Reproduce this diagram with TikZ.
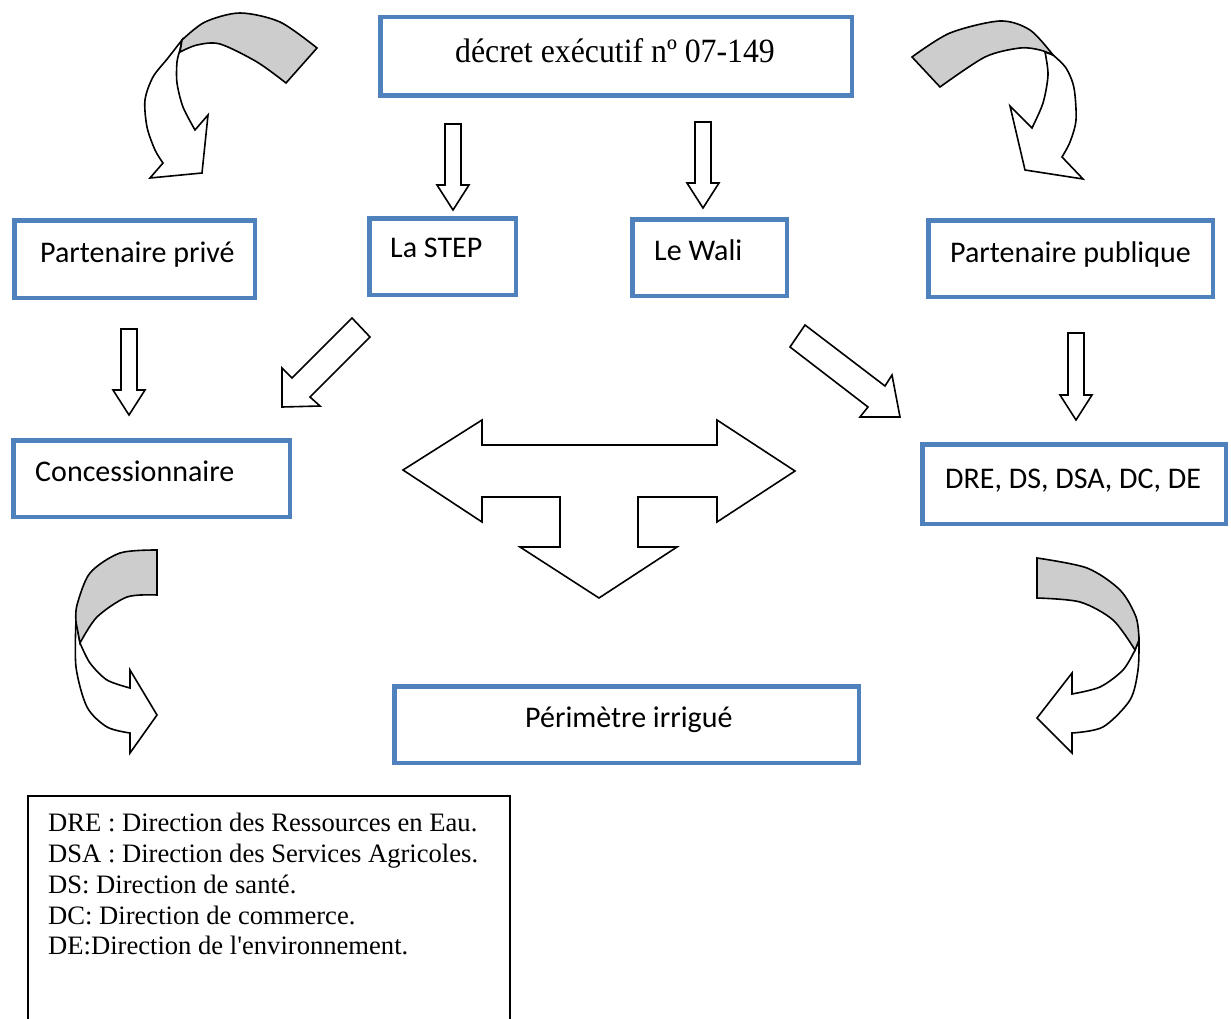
\documentclass[tikz,border=0pt]{standalone}
\usepackage{fontspec}
\setmainfont{Liberation Serif}[Ligatures=TeXOff]
\newfontfamily\calibri{Carlito}
\definecolor{boxblue}{HTML}{4F81BD}
\definecolor{bandgray}{HTML}{CDCDCD}
\begin{document}
\begin{tikzpicture}[x=1pt,y=-1pt,
  bluebox/.style={draw=boxblue, line width=4.5pt, inner sep=0pt, fill=white},
  boxtext/.style={font=\calibri\fontsize{30}{36}\selectfont, inner sep=0pt},
  legtext/.style={font=\fontsize{26.6}{30.8}\selectfont, inner sep=0pt, align=left},
  arr/.style={draw=black, line width=1.6pt, fill=white, line join=miter},
  band/.style={draw=black, line width=1.6pt, fill=bandgray, line join=miter}]
\clip (0,0) rectangle (1231,1019);
\fill[white] (0,0) rectangle (1231,1019);

% boxes
\node[bluebox, minimum width=471.5pt, minimum height=78.5pt] (decret) at (616,56.5) {};
\node[inner sep=0pt, anchor=base, font=\fontsize{34}{40}\selectfont] (decrettext) at (615,63) {\scalebox{0.935}[1]{décret exécutif nº 07-149}};
\node[bluebox, minimum width=240.5pt, minimum height=77.5pt] (prive) at (134.5,259) {};
\node[boxtext, anchor=base west] (privetext) at (40,262) {Partenaire privé};
\node[bluebox, minimum width=146.5pt, minimum height=76.5pt] (step) at (442.5,256.5) {};
\node[boxtext, anchor=base west] (steptext) at (390,257) {La STEP};
\node[bluebox, minimum width=154.5pt, minimum height=76.5pt] (wali) at (709.5,257.5) {};
\node[boxtext, anchor=base west] (walitext) at (654,260) {Le Wali};
\node[bluebox, minimum width=284.5pt, minimum height=76.5pt] (publique) at (1070.5,258.5) {};
\node[boxtext, anchor=base west] (publiquetext) at (950,262) {Partenaire publique};
\node[bluebox, minimum width=276.5pt, minimum height=76.5pt] (conc) at (151.5,478.5) {};
\node[boxtext, anchor=base west] (conctext) at (35,481) {Concessionnaire};
\node[bluebox, minimum width=303.5pt, minimum height=79.5pt] (dre) at (1074,484) {};
\node[boxtext, anchor=base west] (dretext) at (945,488) {DRE, DS, DSA, DC, DE};
\node[bluebox, minimum width=464.5pt, minimum height=76.5pt] (perim) at (626.5,724.5) {};
\node[boxtext, anchor=base west] (perimtext) at (525,727) {Périmètre irrigué};

% legend
\draw[line width=1.3pt] (28,796) rectangle (510,1040);
\node[legtext, anchor=north west] (legend) at (48,813) {DRE : Direction des Ressources en Eau.\\DSA : Direction des Services Agricoles.\\DS: Direction de santé.\\DC: Direction de commerce.\\DE:Direction de l'environnement.};

% straight block arrows
\draw[arr] (445,124) -- (461,124) -- (461,185) -- (469,185) -- (453,210) -- (437,185) -- (445,185) -- cycle;
\draw[arr] (695,122) -- (711,122) -- (711,183) -- (719,183) -- (703,208) -- (687,183) -- (695,183) -- cycle;
\draw[arr] (121,329) -- (137,329) -- (137,390) -- (145,390) -- (129,415) -- (113,390) -- (121,390) -- cycle;
\draw[arr] (1068,333) -- (1084,333) -- (1084,395) -- (1092,395) -- (1076,420) -- (1060,395) -- (1068,395) -- cycle;
% diagonal arrows
\draw[arr] (352,318) -- (370,337) -- (310,397) -- (320,406) -- (282,407) -- (282,368) -- (292,378) -- cycle;
\draw[arr] (805,325) -- (885,386) -- (892,375) -- (900,417) -- (860,417) -- (868,407) -- (790,347) -- cycle;
% T arrow
\draw[arr] (403,470) -- (482,420) -- (482,445) -- (717,445) -- (717,420) -- (795,471) -- (717,522) -- (717,497) -- (638,497) -- (638,547) -- (677,547) -- (599,598) -- (520,547) -- (560,547) -- (560,497) -- (482,497) -- (482,522) -- cycle;

% curved arrow top-left
\draw[arr] plot[smooth] coordinates {(182,40) (168,58) (153,77) (145,100) (147,127) (155,150) (163,163)} -- (150,178) -- (202,173) -- (208,115) -- (195,130) -- plot[smooth] coordinates {(195,130) (183,107) (177,83) (177,62) (180,50)} -- cycle;
\draw[band] plot[smooth] coordinates {(182,40) (205,22) (240,13) (280,22) (317,48)} -- (286,83) -- plot[smooth] coordinates {(286,83) (257,62) (220,44) (197,45) (180,52)} -- cycle;

% curved arrow top-right
\draw[arr] plot[smooth] coordinates {(1053,55) (1066,68) (1074,88) (1076,120) (1070,142) (1062,157)} -- (1083,179) -- (1025,170) -- (1010,106) -- (1032,128) -- plot[smooth] coordinates {(1032,128) (1043,103) (1048,75) (1045,52)} -- cycle;
\draw[band] plot[smooth] coordinates {(912,57) (950,33) (1000,21) (1030,30) (1053,55)} -- plot[smooth] coordinates {(1053,55) (1040,50) (1020,48) (985,57) (940,87)} -- cycle;

% curved arrow bottom-left
\draw[arr] plot[smooth] coordinates {(76,620) (76,667) (87,707) (107,727) (130,733)} -- (130,753) -- (157,715) -- (130,670) -- (130,688) -- plot[smooth] coordinates {(130,688) (107,680) (90,663) (80,643)} -- cycle;
\draw[band] plot[smooth] coordinates {(157,550) (120,553) (90,573) (77,605) (76,622)} -- (80,643) -- plot[smooth] coordinates {(80,643) (97,617) (127,597) (157,595)} -- cycle;

% curved arrow bottom-right
\draw[arr] plot[smooth] coordinates {(1139,640) (1138,670) (1130,700) (1103,727) (1072,733)} -- (1072,753) -- (1037,718) -- (1072,673) -- (1072,694) -- plot[smooth] coordinates {(1072,694) (1100,687) (1123,670) (1135,650)} -- cycle;
\draw[band] plot[smooth] coordinates {(1037,558) (1087,568) (1120,590) (1136,617) (1139,640)} -- (1135,650) -- plot[smooth] coordinates {(1135,650) (1113,620) (1080,602) (1037,598)} -- cycle;
\end{tikzpicture}
\end{document}
